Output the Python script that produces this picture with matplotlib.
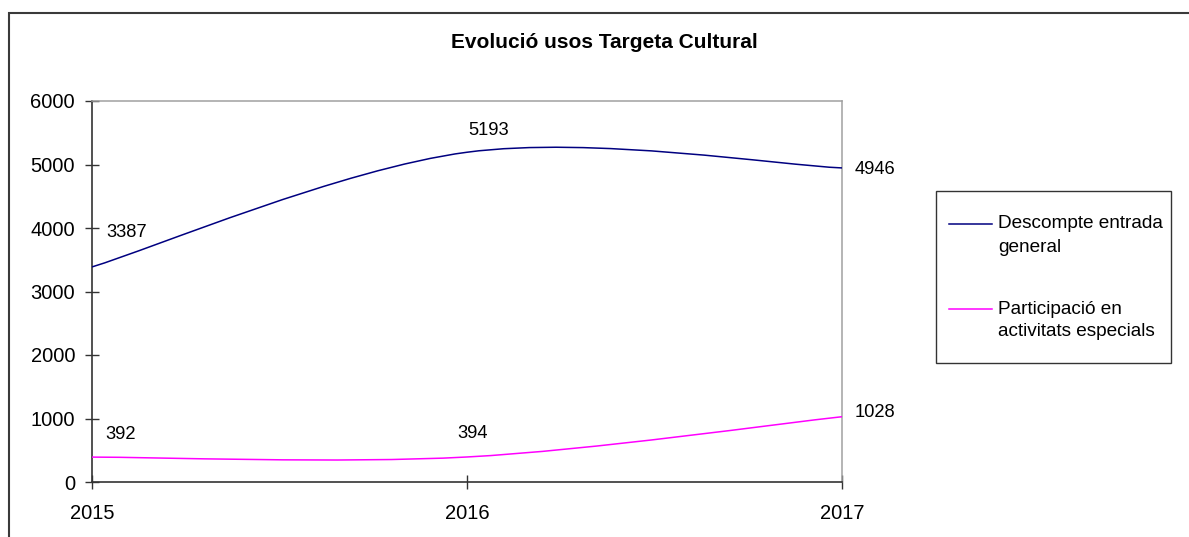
import numpy as np
import matplotlib
matplotlib.use("Agg")
import matplotlib.pyplot as plt
from matplotlib.path import Path
from matplotlib.patches import PathPatch, Rectangle
from matplotlib.lines import Line2D

plt.rcParams['font.family'] = ['Liberation Sans', 'DejaVu Sans']

# ---- data ----
title = "Evolució usos Targeta Cultural"
years = ["2015", "2016", "2017"]
descompte = [3387, 5193, 4946]
participacio = [392, 394, 1028]
series_labels = ["Descompte entrada\ngeneral", "Participació en\nactivitats especials"]
y_ticks = [0, 1000, 2000, 3000, 4000, 5000, 6000]

# ---- styling / layout ----
W, H = 1189, 537
colors = ["#000080", "#FF00FF"]
# data label offsets in points (dx, dy) for each series point
label_offsets = [
    [(10.1, 24.5), (0.7, 15.8), (9.4, -1.4)],
    [(9.4, 16.6), (-7.2, 16.6), (9.4, 2.9)],
]

def fx(px):
    return px / W

def fy(py):
    return 1 - py / H

fig = plt.figure(figsize=(W / 100, H / 100), dpi=100)
ax = fig.add_axes([fx(92), fy(482), fx(842) - fx(92), fy(101) - fy(482)])

x = np.arange(len(years))


def smooth_path(xs, ys):
    pts = np.column_stack([xs, ys]).astype(float)
    n = len(pts)
    verts = [pts[0]]
    codes = [Path.MOVETO]
    for i in range(n - 1):
        p_prev = pts[i - 1] if i > 0 else pts[i]
        p_next2 = pts[i + 2] if i + 2 < n else pts[i + 1]
        c1 = pts[i] + (pts[i + 1] - p_prev) / 6.0
        c2 = pts[i + 1] - (p_next2 - pts[i]) / 6.0
        verts += [c1, c2, pts[i + 1]]
        codes += [Path.CURVE4] * 3
    return Path(np.array(verts), codes)


for vals, col, offs in zip([descompte, participacio], colors, label_offsets):
    patch = PathPatch(smooth_path(x, vals), fill=False, edgecolor=col, lw=1.1, zorder=3)
    ax.add_patch(patch)
    for xi, v, (dx, dy) in zip(x, vals, offs):
        ax.annotate(str(v), (xi, v), xytext=(dx, dy), textcoords="offset points",
                    ha="left", va="center", fontsize=13.2, color="black",
                    annotation_clip=False)

ax.set_xlim(0, len(years) - 1)
ax.set_ylim(0, 6000)
ax.set_xticks(x)
ax.set_xticklabels(years)
ax.set_yticks(y_ticks)
ax.set_yticklabels([str(t) for t in y_ticks])

ax.tick_params(axis="both", direction="inout", length=9.4, width=1.0, color="#333333",
               labelsize=14.5, labelcolor="black")
ax.tick_params(axis="y", pad=7.5)
ax.tick_params(axis="x", pad=11)

for side in ["left", "bottom"]:
    ax.spines[side].set_color("#333333")
    ax.spines[side].set_linewidth(1.2)
for side in ["top", "right"]:
    ax.spines[side].set_color("#a0a0a0")
    ax.spines[side].set_linewidth(1.1)

# title
fig.text(fx(604), fy(43), title, ha="center", va="center", fontsize=15, fontweight="bold")

# outer chart border (extends past the right and bottom edges)
fig.add_artist(Rectangle((fx(9), -0.1), 1.2, fy(13) + 0.1, transform=fig.transFigure,
                         fill=False, edgecolor="#3a3a3a", lw=1.5))

# legend box
fig.add_artist(Rectangle((fx(936), fy(363)), fx(1171) - fx(936), fy(191) - fy(363),
                         transform=fig.transFigure, fill=False, edgecolor="#333333", lw=1.0))
entry_y = [224, 309]
for lab, col, ey in zip(series_labels, colors, entry_y):
    fig.add_artist(Line2D([fx(949), fx(992)], [fy(ey), fy(ey)], transform=fig.transFigure,
                          color=col, lw=1.1))
    for k, line in enumerate(lab.split("\n")):
        fig.text(fx(998), fy(ey + 23 * k), line, ha="left", va="center", fontsize=13.7)

fig.savefig("out.png", dpi=100)
